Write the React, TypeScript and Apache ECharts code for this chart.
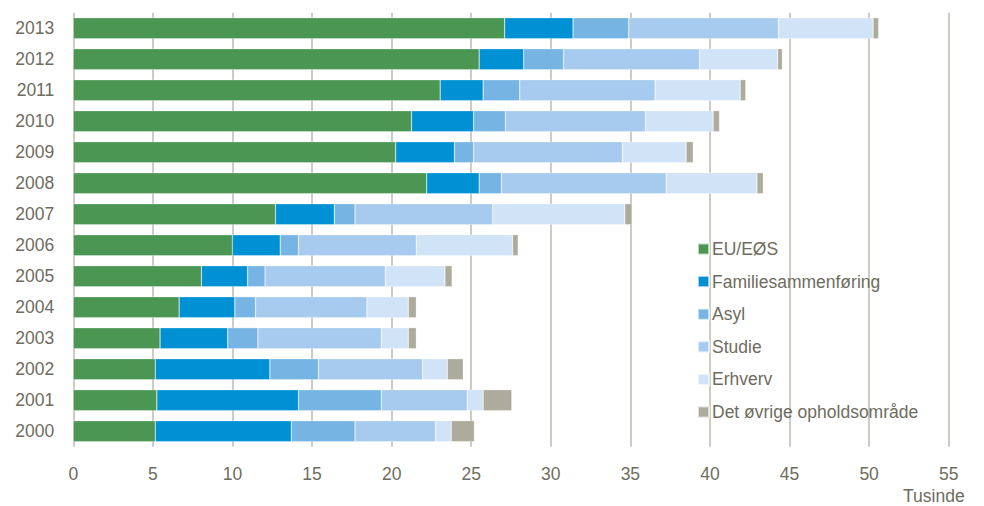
import React, { useEffect, useRef } from "react";
import * as echarts from "echarts";

const years = ["2000", "2001", "2002", "2003", "2004", "2005", "2006", "2007", "2008", "2009", "2010", "2011", "2012", "2013"];
const seriesNames = ["EU/EØS", "Familiesammenføring", "Asyl", "Studie", "Erhverv", "Det øvrige opholdsområde"];
const euEos = [5.15, 5.25, 5.15, 5.45, 6.65, 8.05, 10.0, 12.7, 22.2, 20.25, 21.25, 23.05, 25.5, 27.1];
const familie = [8.55, 8.9, 7.2, 4.25, 3.5, 2.9, 3.0, 3.7, 3.3, 3.7, 3.9, 2.7, 2.8, 4.3];
const asyl = [4.0, 5.2, 3.05, 1.9, 1.3, 1.1, 1.15, 1.3, 1.4, 1.2, 2.0, 2.3, 2.5, 3.5];
const studie = [5.05, 5.4, 6.55, 7.75, 7.0, 7.55, 7.4, 8.65, 10.35, 9.35, 8.8, 8.5, 8.55, 9.4];
const erhverv = [1.0, 1.0, 1.55, 1.7, 2.6, 3.75, 6.05, 8.3, 5.7, 4.0, 4.25, 5.35, 4.9, 5.95];
const oevrige = [1.45, 1.8, 1.0, 0.5, 0.5, 0.45, 0.35, 0.45, 0.4, 0.45, 0.4, 0.35, 0.3, 0.35];
const xTicks = [0, 5, 10, 15, 20, 25, 30, 35, 40, 45, 50, 55];
const unitLabel = "Tusinde";

const colors = ["#4a9652", "#0091d5", "#76b5e3", "#a6cbee", "#d1e3f6", "#adab9c"];
const textColor = "#6e6c60";
const font = "'Liberation Sans', Arial, sans-serif";
const fs = 17.5;

export default function App() {
  const ref = useRef<HTMLDivElement>(null);
  useEffect(() => {
    if (!ref.current) return;
    const chart = echarts.init(ref.current, undefined, { renderer: "svg" });
    const data = [euEos, familie, asyl, studie, erhverv, oevrige];
    chart.setOption({
      animation: false,
      color: colors,
      textStyle: { fontFamily: font },
      grid: { left: 73.3, right: 35.3, top: 12.7, bottom: 59.3, containLabel: false },
      legend: {
        orient: "vertical",
        left: 692,
        top: 234,
        itemWidth: 11,
        itemHeight: 11,
        itemGap: 12.6,
        icon: "rect",
        textStyle: { color: textColor, fontSize: fs, fontFamily: font, lineHeight: 20, padding: [0, 0, 0, -2] },
        data: seriesNames,
      },
      xAxis: {
        type: "value",
        min: xTicks[0],
        max: xTicks[xTicks.length - 1],
        interval: 5,
        axisLine: { show: false },
        axisTick: { show: false },
        axisLabel: { color: textColor, fontSize: fs, fontFamily: font, margin: 18 },
        splitLine: { show: true, lineStyle: { color: "#bdbbb0", width: 1.5 } },
      },
      yAxis: {
        type: "category",
        data: years,
        axisLine: { show: false },
        axisTick: { show: false },
        axisLabel: { color: textColor, fontSize: fs, fontFamily: font, margin: 19 },
      },
      graphic: [
        {
          type: "text",
          left: 903,
          top: 487,
          style: { text: unitLabel, fill: textColor, fontSize: fs, fontFamily: font },
        },
      ],
      series: seriesNames.map((name, i) => ({
        name,
        type: "bar",
        stack: "total",
        data: data[i],
        barCategoryGap: "32%",
        itemStyle: { color: colors[i], borderColor: "rgba(255,255,255,0.6)", borderWidth: 0.5 },
      })),
    });
    return () => chart.dispose();
  }, []);
  return <div ref={ref} style={{ position: "fixed", left: 0, top: 0, width: 984, height: 506, background: "#fff" }} />;
}
